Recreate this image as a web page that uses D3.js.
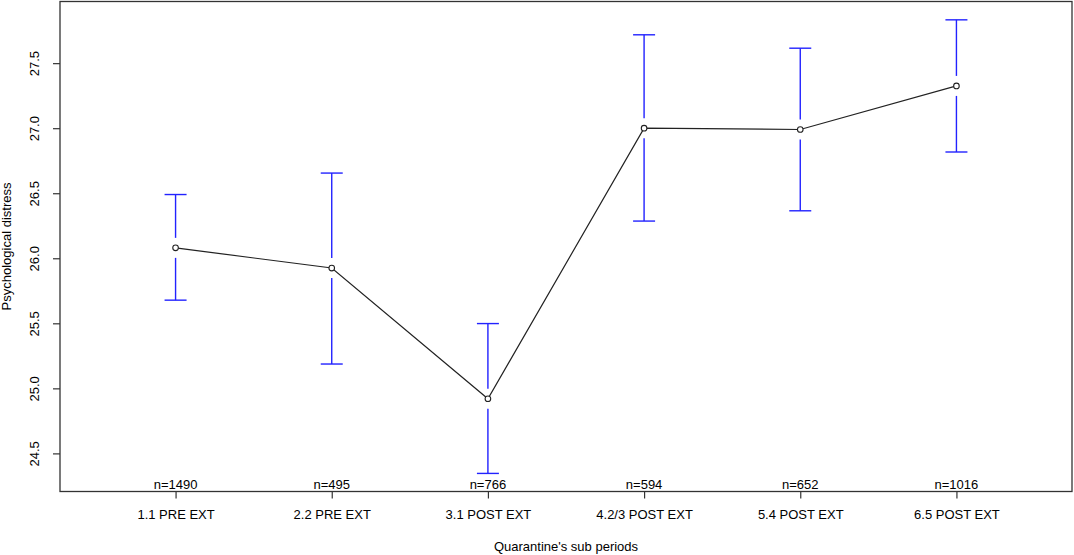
<!DOCTYPE html>
<html>
<head>
<meta charset="utf-8">
<script src="https://cdn.jsdelivr.net/npm/d3@7"></script>
<style>
  body { margin: 0; background: #fff; }
  text { font-family: "Liberation Sans", Arial, sans-serif; fill: #000; }
</style>
</head>
<body>
<svg id="chart"></svg>
<script>
var periods = ['1.1 PRE EXT', '2.2 PRE EXT', '3.1 POST EXT', '4.2/3 POST EXT', '5.4 POST EXT', '6.5 POST EXT'];
var means = [26.08, 25.925, 24.92, 27.0, 26.99, 27.325];
var upper = [26.49, 26.655, 25.498, 27.718, 27.615, 27.833];
var lower = [25.678, 25.187, 24.346, 26.286, 26.365, 26.817];
var counts = [1490, 495, 766, 594, 652, 1016];
var yTicks = [24.5, 25.0, 25.5, 26.0, 26.5, 27.0, 27.5];

var width = 1074;
var height = 555;
var plotL = 60, plotR = 1072, plotT = 1.5, plotB = 491.5;

var svg = d3.select('#chart')
    .attr('width', width)
    .attr('height', height);

var x = d3.scaleLinear()
    .domain([0.26, 6.74])
    .range([plotL, plotR]);

var y = d3.scaleLinear()
    .domain([24.207, 27.974])
    .range([plotB, plotT]);

var data = periods.map(function(p, i) {
  return {pos: i + 1, label: p, mean: means[i], hi: upper[i], lo: lower[i], n: counts[i]};
});

// box
svg.append('rect')
    .attr('x', plotL)
    .attr('y', plotT)
    .attr('width', plotR - plotL)
    .attr('height', plotB - plotT)
    .attr('fill', 'none')
    .attr('stroke', '#333')
    .attr('stroke-width', 1.3);

// y axis
var yAxis = d3.axisLeft(y)
    .tickValues(yTicks)
    .tickFormat(d3.format('.1f'))
    .tickSize(7)
    .tickPadding(4);

var yg = svg.append('g')
    .attr('transform', 'translate(' + plotL + ',0)')
    .call(yAxis);
yg.select('.domain').remove();
yg.selectAll('.tick line').attr('stroke', '#333').attr('stroke-width', 1.2);
yg.selectAll('.tick text')
    .attr('font-size', 13)
    .attr('font-family', '"Liberation Sans", Arial, sans-serif')
    .attr('fill', '#000')
    .attr('text-anchor', 'middle')
    .attr('x', 0)
    .attr('y', 0)
    .attr('dy', 0)
    .attr('transform', 'translate(-24,0) rotate(-90)')
    .attr('dominant-baseline', 'middle');

// x axis
var xAxis = d3.axisBottom(x)
    .tickValues(data.map(d => d.pos))
    .tickFormat(d => periods[d - 1])
    .tickSize(7)
    .tickPadding(11);

var xg = svg.append('g')
    .attr('transform', 'translate(0,' + plotB + ')')
    .call(xAxis);
xg.select('.domain').remove();
xg.selectAll('.tick line').attr('stroke', '#333').attr('stroke-width', 1.2);
xg.selectAll('.tick text')
    .attr('font-size', 13)
    .attr('font-family', '"Liberation Sans", Arial, sans-serif')
    .attr('fill', '#000');

// error bars
var gap = 10, cap = 11;
var bars = svg.append('g')
    .attr('stroke', '#2222ff')
    .attr('stroke-width', 1.4)
    .attr('fill', 'none');

bars.selectAll('.upper')
    .data(data)
  .enter()
  .append('line')
    .classed('upper', true)
    .attr('x1', d => x(d.pos))
    .attr('x2', d => x(d.pos))
    .attr('y1', d => y(d.hi))
    .attr('y2', d => y(d.mean) - gap);

bars.selectAll('.lower')
    .data(data)
  .enter()
  .append('line')
    .classed('lower', true)
    .attr('x1', d => x(d.pos))
    .attr('x2', d => x(d.pos))
    .attr('y1', d => y(d.mean) + gap)
    .attr('y2', d => y(d.lo));

bars.selectAll('.capHi')
    .data(data)
  .enter()
  .append('line')
    .classed('capHi', true)
    .attr('x1', d => x(d.pos) - cap)
    .attr('x2', d => x(d.pos) + cap)
    .attr('y1', d => y(d.hi))
    .attr('y2', d => y(d.hi));

bars.selectAll('.capLo')
    .data(data)
  .enter()
  .append('line')
    .classed('capLo', true)
    .attr('x1', d => x(d.pos) - cap)
    .attr('x2', d => x(d.pos) + cap)
    .attr('y1', d => y(d.lo))
    .attr('y2', d => y(d.lo));

// mean line
var line = d3.line()
    .x(d => x(d.pos))
    .y(d => y(d.mean));

svg.append('path')
    .datum(data)
    .attr('d', line)
    .attr('fill', 'none')
    .attr('stroke', '#222')
    .attr('stroke-width', 1.2);

svg.selectAll('.pt')
    .data(data)
  .enter()
  .append('circle')
    .classed('pt', true)
    .attr('cx', d => x(d.pos))
    .attr('cy', d => y(d.mean))
    .attr('r', 2.8)
    .attr('fill', '#fff')
    .attr('stroke', '#222')
    .attr('stroke-width', 1.1);

// n labels
svg.selectAll('.nlab')
    .data(data)
  .enter()
  .append('text')
    .classed('nlab', true)
    .attr('x', d => x(d.pos))
    .attr('y', plotB - 3)
    .attr('text-anchor', 'middle')
    .attr('font-size', 13)
    .text(d => 'n=' + d.n);

// axis titles
svg.append('text')
    .attr('x', (plotL + plotR) / 2)
    .attr('y', 551)
    .attr('text-anchor', 'middle')
    .attr('font-size', 13)
    .text("Quarantine's sub periods");

svg.append('text')
    .attr('transform', 'translate(11,' + ((plotT + plotB) / 2) + ') rotate(-90)')
    .attr('text-anchor', 'middle')
    .attr('font-size', 13)
    .text('Psychological distress');
</script>
</body>
</html>
